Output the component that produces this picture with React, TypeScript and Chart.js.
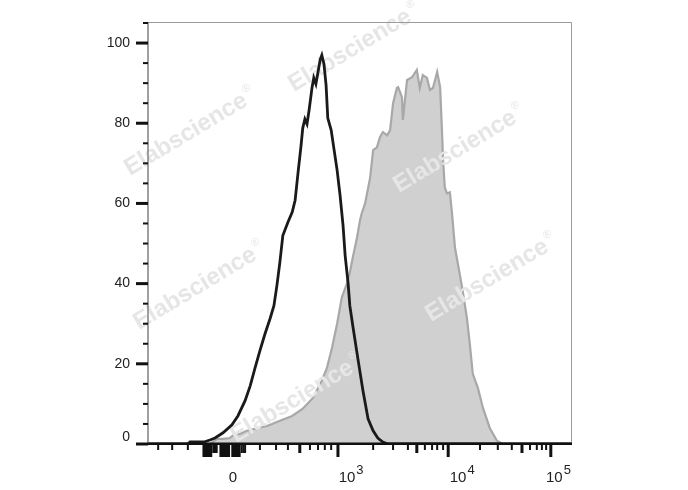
import React, { useEffect, useRef } from "react";
import { Chart, registerables } from "chart.js";
Chart.register(...registerables);

// X values are display channels (0-1000 across the biexponential axis), Y values are % of max.
const isotypeX = [0, 94, 99, 132, 146, 158, 177, 198, 212, 229, 241, 252, 264, 276, 288, 297, 304, 311, 318, 330, 340, 347, 354, 361, 365, 370, 375, 380, 387, 391, 396, 401, 406, 410, 415, 420, 424, 432, 439, 446, 453, 460, 465, 472, 476, 483, 495, 507, 519, 531, 542, 554, 566, 1000];
const isotypeY = [0, 0, 0.5, 0.5, 1, 1.5, 2.8, 4.8, 7, 10.8, 14.5, 18.8, 23.3, 27.5, 31.3, 34.5, 39.5, 45.3, 52, 55.3, 57.8, 60.8, 67.8, 74.5, 78.8, 81, 79.8, 83.3, 89, 91.3, 89.8, 92.8, 95.8, 97, 94.8, 89.5, 81.3, 78.3, 73.3, 68.3, 62, 54.5, 47, 40, 34.5, 29.5, 21.3, 13.3, 6.3, 3.3, 1.5, 0.5, 0, 0];

const stainedX = [0, 123, 146, 163, 177, 193, 205, 217, 233, 259, 281, 311, 340, 365, 389, 410, 422, 434, 446, 457, 469, 476, 483, 493, 500, 504, 512, 524, 531, 540, 547, 554, 564, 571, 578, 587, 590, 599, 601, 611, 623, 634, 641, 648, 658, 665, 672, 682, 689, 693, 696, 700, 705, 712, 717, 724, 729, 741, 752, 759, 766, 778, 790, 806, 823, 837, 1000];
const stainedY = [0, 0, 0, 1.3, 1.3, 1.5, 2.5, 2.5, 3.3, 4, 4.5, 5.8, 7, 8.8, 11.5, 15.8, 19, 24, 30, 36.5, 40, 42.8, 46.5, 51.5, 55.8, 57.5, 60, 66.5, 73.3, 74, 76.5, 77.8, 77, 78.3, 85, 88.8, 89, 86.5, 80.8, 90.8, 91.5, 93.3, 88.8, 92, 91.3, 88.3, 88.8, 92.8, 89, 79, 70.8, 64, 62.5, 62.8, 57.5, 49, 46, 39, 31.5, 25, 17.5, 14, 9, 4, 0.8, 0, 0];

const yMajorTicks = [0, 20, 40, 60, 80, 100];
const yMinorTicks = [5, 10, 15, 25, 30, 35, 45, 50, 55, 65, 70, 75, 85, 90, 95, 105];
const yTickLabels = ["0", "20", "40", "60", "80", "100"];

const xMajorTicks = [448, 708, 950];
const xMidTicks = [358, 634, 882];
const xMinorTicks = [24, 57, 94, 264, 302, 330, 382, 401, 417, 432, 531, 578, 613, 653, 670, 682, 696, 783, 825, 858, 901, 917, 929, 939];
const xDenseTallTicks = [132, 135, 138, 141.5, 145, 148, 172, 175, 178, 181, 184, 187, 190, 200, 203, 206, 209, 212, 215];
const xDenseShortTicks = [154, 158, 162, 221, 225, 229];
const xLabelPositions = [200, 479, 741, 968];
const xLabelBase = ["0", "10", "10", "10"];
const xLabelExp = ["", "3", "4", "5"];

const watermarkText = "Elabscience";
const watermarkSpots = [
  [294, 92], [130, 176], [399, 193], [139, 330], [431, 322], [236, 443],
];

const FONT = '"Liberation Sans", Arial, Helvetica, sans-serif';

function drawWatermarks(ctx: CanvasRenderingContext2D) {
  ctx.save();
  ctx.fillStyle = "#e6e6e6";
  for (const [sx, sy] of watermarkSpots) {
    ctx.save();
    ctx.translate(sx, sy);
    ctx.rotate(-31 * Math.PI / 180);
    ctx.font = `bold 24px ${FONT}`;
    ctx.textAlign = "left";
    ctx.textBaseline = "alphabetic";
    ctx.fillText(watermarkText, 0, 0);
    const w = ctx.measureText(watermarkText).width;
    ctx.font = `11px ${FONT}`;
    ctx.fillText("®", w + 2, -12);
    ctx.restore();
  }
  ctx.restore();
}

const flowAxes = {
  id: "flowAxes",
  afterDatasetDraw(chart: any, args: any) {
    if (args.index === 1) drawWatermarks(chart.ctx);
  },
  afterDraw(chart: any) {
    const { ctx, chartArea: a, scales } = chart;
    const x = scales.x;
    const y = scales.y;
    ctx.save();
    // frame
    ctx.strokeStyle = "#9a9a9a";
    ctx.lineWidth = 1;
    ctx.beginPath();
    ctx.moveTo(a.left, a.top + 0.5);
    ctx.lineTo(a.right - 0.5, a.top + 0.5);
    ctx.lineTo(a.right - 0.5, a.bottom);
    ctx.stroke();
    ctx.strokeStyle = "#808080";
    ctx.lineWidth = 1.5;
    ctx.beginPath();
    ctx.moveTo(a.left, a.top);
    ctx.lineTo(a.left, a.bottom);
    ctx.stroke();
    // x axis line
    ctx.fillStyle = "#111";
    ctx.fillRect(a.left, a.bottom - 1.5, a.right - a.left, 2.5);

    // y ticks
    for (const v of yMajorTicks) {
      const py = y.getPixelForValue(v);
      ctx.fillRect(a.left - 12, py - 1.5, 12, 3);
    }
    for (const v of yMinorTicks) {
      const py = y.getPixelForValue(v);
      ctx.fillRect(a.left - 5, py - 1, 5, 2);
    }
    // x ticks
    const b = a.bottom + 1;
    for (const v of xMajorTicks) {
      const px = x.getPixelForValue(v);
      ctx.fillRect(px - 1.5, b - 1, 3, 13);
    }
    for (const v of xMidTicks) {
      const px = x.getPixelForValue(v);
      ctx.fillRect(px - 1.5, b - 1, 3, 9);
    }
    for (const v of xMinorTicks) {
      const px = x.getPixelForValue(v);
      ctx.fillRect(px - 1, b - 1, 2, 6);
    }
    for (const v of xDenseTallTicks) {
      const px = x.getPixelForValue(v);
      ctx.fillRect(px - 1.5, b - 1, 3, 13);
    }
    for (const v of xDenseShortTicks) {
      const px = x.getPixelForValue(v);
      ctx.fillRect(px - 1, b - 1, 2, 9);
    }

    // y labels
    ctx.fillStyle = "#222";
    ctx.font = `14px ${FONT}`;
    ctx.textAlign = "right";
    ctx.textBaseline = "middle";
    yMajorTicks.forEach((v, i) => {
      let py = y.getPixelForValue(v);
      if (v === 0) py -= 7;
      ctx.fillText(yTickLabels[i], a.left - 18, py);
    });

    // x labels
    ctx.textAlign = "left";
    ctx.textBaseline = "alphabetic";
    const baseY = 482;
    xLabelPositions.forEach((v, i) => {
      const px = x.getPixelForValue(v);
      ctx.font = `15px ${FONT}`;
      const bw = ctx.measureText(xLabelBase[i]).width;
      ctx.font = `13px ${FONT}`;
      const ew = xLabelExp[i] ? ctx.measureText(xLabelExp[i]).width + 1 : 0;
      const start = px - (bw + ew) / 2;
      ctx.font = `15px ${FONT}`;
      ctx.fillText(xLabelBase[i], start, baseY);
      if (xLabelExp[i]) {
        ctx.font = `13px ${FONT}`;
        ctx.fillText(xLabelExp[i], start + bw + 1, baseY - 8);
      }
    });
    ctx.restore();
  },
};

export default function App() {
  const ref = useRef<HTMLCanvasElement | null>(null);
  useEffect(() => {
    document.body.style.margin = "0";
    if (!ref.current) return;
    const chart = new Chart(ref.current, {
      type: "line",
      data: {
        datasets: [
          {
            label: "Isotype",
            data: isotypeX.map((v, i) => ({ x: v, y: isotypeY[i] })),
            borderColor: "#1a1a1a",
            borderWidth: 2.8,
            fill: false,
            pointRadius: 0,
            tension: 0,
          },
          {
            label: "Stained",
            data: stainedX.map((v, i) => ({ x: v, y: stainedY[i] })),
            borderColor: "#a8a8a8",
            backgroundColor: "#d0d0d0",
            borderWidth: 2.2,
            fill: "origin",
            pointRadius: 0,
            tension: 0,
          },
        ],
      },
      options: {
        animation: false,
        responsive: false,
        layout: { padding: { left: 148, right: 116, top: 22, bottom: 46 } },
        plugins: { legend: { display: false }, tooltip: { enabled: false } },
        scales: {
          x: { type: "linear", min: 0, max: 1000, display: false },
          y: { type: "linear", min: 0, max: 105.25, display: false },
        },
      },
      plugins: [flowAxes],
    });
    return () => chart.destroy();
  }, []);
  return (
    <div style={{ position: "absolute", left: 0, top: 0, width: 688, height: 490 }}>
      <canvas ref={ref} width={688} height={490} />
    </div>
  );
}
